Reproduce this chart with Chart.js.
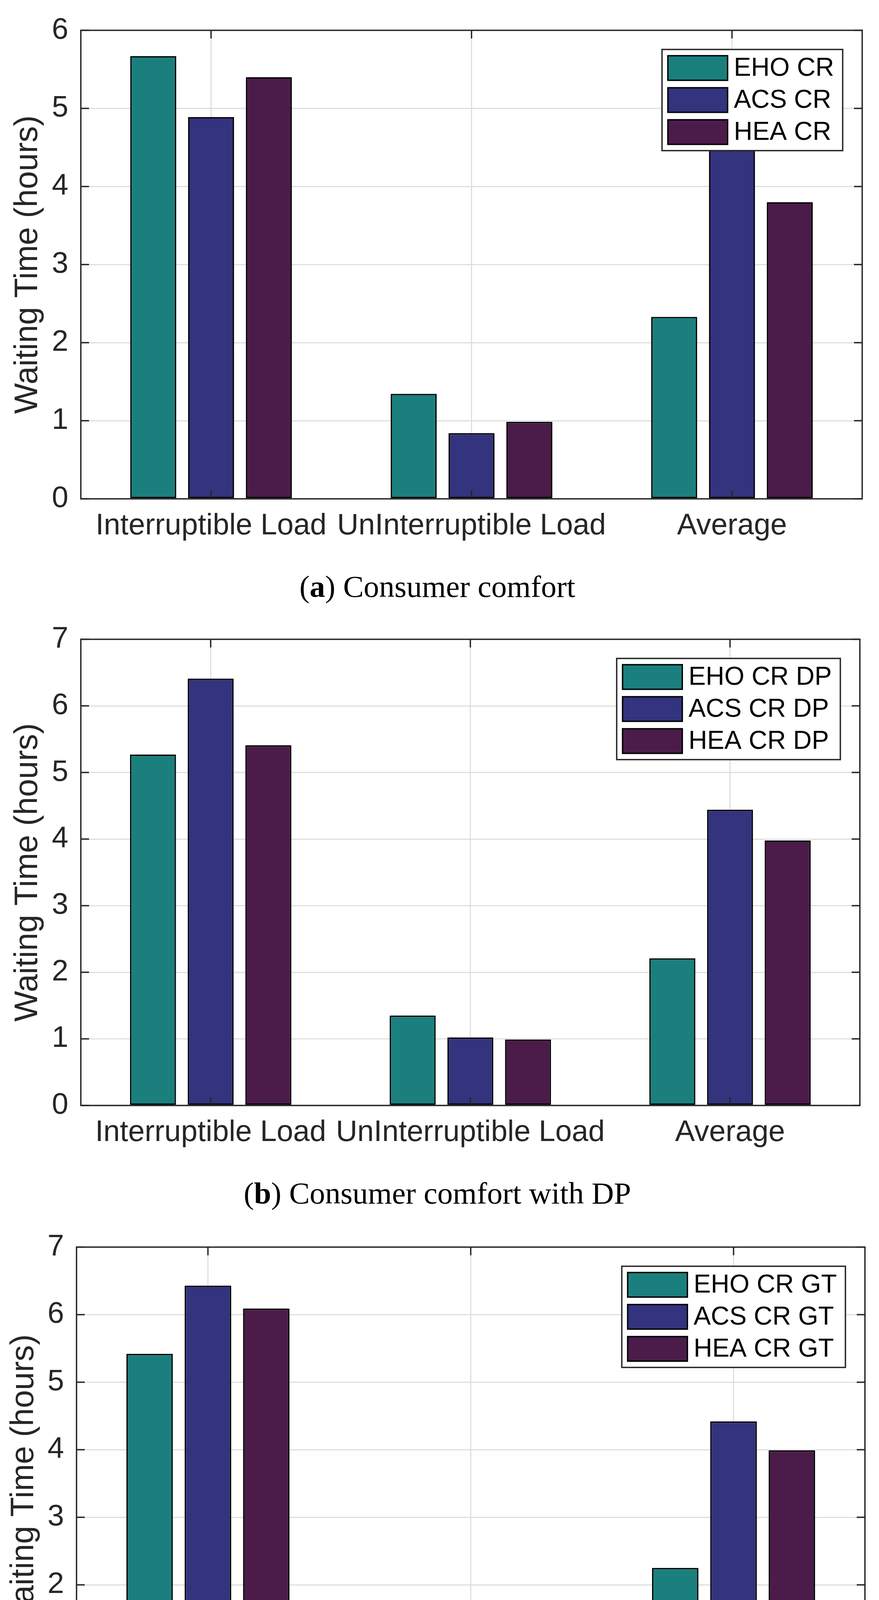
<!DOCTYPE html>
<html>
<head>
<meta charset="utf-8">
<script src="https://cdn.jsdelivr.net/npm/chart.js@4.4.1/dist/chart.umd.min.js"></script>
<style>
  html, body { margin: 0; padding: 0; background: #fff; }
  body { width: 2251px; height: 4688px; position: relative; overflow: hidden; }
  .panel { position: absolute; left: 0; width: 2251px; height: 1420px; }
  .cap {
    position: absolute; left: 0; width: 2240px; text-align: center;
    font-family: "Liberation Serif", "DejaVu Serif", serif;
    font-size: 79px; line-height: 79px; color: #000; white-space: nowrap;
  }
</style>
</head>
<body>
<div class="panel" style="top:0px"><canvas id="chartA" width="2251" height="1420"></canvas></div>
<div class="cap" style="top:1462px">(<b>a</b>) Consumer comfort</div>
<div class="panel" style="top:1559px"><canvas id="chartB" width="2251" height="1420"></canvas></div>
<div class="cap" style="top:3015px">(<b>b</b>) Consumer comfort with DP</div>
<div class="panel" style="top:3115px"><canvas id="chartC" width="2251" height="1420"></canvas></div>
<div class="cap" style="top:4588px">(<b>c</b>) Consumer comfort with GT</div>
<script>
// data
const categories = ["Interruptible Load", "UnInterruptible Load", "Average"];

const labelsA = ["EHO CR", "ACS CR", "HEA CR"];
const ehoA = [5.67, 1.345, 2.33];
const acsA = [4.89, 0.84, 4.475];
const heaA = [5.40, 0.985, 3.80];

const labelsB = ["EHO CR DP", "ACS CR DP", "HEA CR DP"];
const ehoB = [5.27, 1.35, 2.21];
const acsB = [6.41, 1.02, 4.44];
const heaB = [5.41, 0.99, 3.98];

const labelsC = ["EHO CR GT", "ACS CR GT", "HEA CR GT"];
const ehoC = [5.42, 1.345, 2.25];
const acsC = [6.43, 0.84, 4.42];
const heaC = [6.09, 0.84, 3.99];

const colors = ["#1b807d", "#33337e", "#4b1c4a"];
const axisCol = "#262626";
const gridCol = "#dfdfdf";
const sans = '"Liberation Sans", Arial, Helvetica, sans-serif';

// frame and inner tick marks, like matlab's box on
const framePlugin = {
    id: "frame",
    afterDatasetsDraw(chart) {
        const ctx = chart.ctx;
        const a = chart.chartArea;
        const x = chart.scales.x;
        const y = chart.scales.y;
        ctx.save();
        ctx.strokeStyle = axisCol;
        ctx.lineWidth = 3.5;
        ctx.beginPath();
        for (let i = 0; i < y.ticks.length; i++) {
            const py = y.getPixelForTick(i);
            ctx.moveTo(a.left, py); ctx.lineTo(a.left + 21, py);
            ctx.moveTo(a.right, py); ctx.lineTo(a.right - 21, py);
        }
        for (let i = 0; i < x.ticks.length; i++) {
            const px = x.getPixelForTick(i);
            ctx.moveTo(px, a.bottom); ctx.lineTo(px, a.bottom - 21);
            ctx.moveTo(px, a.top); ctx.lineTo(px, a.top + 21);
        }
        ctx.stroke();
        ctx.strokeRect(a.left, a.top, a.right - a.left, a.bottom - a.top);
        ctx.restore();
    }
};

// boxed legend in the upper right corner
const boxLegend = {
    id: "boxLegend",
    afterDraw(chart) {
        const ctx = chart.ctx;
        const a = chart.chartArea;
        const sets = chart.data.datasets;
        ctx.save();
        ctx.font = "66px " + sans;
        let tw = 0;
        sets.forEach(ds => { tw = Math.max(tw, ctx.measureText(ds.label).width); });
        const w = 15 + 153 + 16 + tw + 22;
        const h = 16 + 82 * (sets.length - 1) + 63 + 16;
        const bx = a.right - 50 - w;
        const by = a.top + 49;
        ctx.fillStyle = "#fff";
        ctx.fillRect(bx, by, w, h);
        ctx.strokeStyle = axisCol;
        ctx.lineWidth = 3.5;
        ctx.strokeRect(bx, by, w, h);
        sets.forEach((ds, i) => {
            const sy = by + 16 + 82 * i;
            ctx.fillStyle = ds.backgroundColor;
            ctx.fillRect(bx + 15, sy, 153, 63);
            ctx.strokeStyle = "#000";
            ctx.lineWidth = 3.5;
            ctx.strokeRect(bx + 15, sy, 153, 63);
            ctx.fillStyle = "#000";
            ctx.textAlign = "left";
            ctx.textBaseline = "middle";
            ctx.fillText(ds.label, bx + 15 + 153 + 16, sy + 33);
        });
        ctx.restore();
    }
};

function makeChart(canvas, labels, series, ymax, box) {
    const datasets = series.map((d, i) => ({
        label: labels[i],
        data: d,
        backgroundColor: colors[i],
        borderColor: "#000",
        borderWidth: 3.5,
        borderSkipped: false,
        categoryPercentage: 0.666,
        barPercentage: 0.797
    }));
    return new Chart(document.getElementById(canvas), {
        type: "bar",
        data: { labels: categories, datasets: datasets },
        options: {
            responsive: false,
            animation: false,
            devicePixelRatio: 1,
            layout: { padding: { top: box.top, right: 2251 - box.right, left: 0, bottom: 0 } },
            plugins: { legend: { display: false }, tooltip: { enabled: false } },
            scales: {
                x: {
                    grid: { color: gridCol, lineWidth: 3, offset: false, drawTicks: false },
                    border: { display: false },
                    ticks: { color: axisCol, font: { family: sans, size: 76 }, padding: 24, maxRotation: 0, autoSkip: false },
                    afterFit: s => { s.height = 1420 - box.bottom; }
                },
                y: {
                    min: 0,
                    max: ymax,
                    grid: { color: gridCol, lineWidth: 3, drawTicks: false },
                    border: { display: false },
                    ticks: { stepSize: 1, color: axisCol, font: { family: sans, size: 76 }, padding: 32 },
                    title: {
                        display: true,
                        text: "Waiting Time (hours)",
                        color: axisCol,
                        font: { family: sans, size: 83 },
                        padding: { top: box.titlePad, bottom: 0 }
                    },
                    afterFit: s => { s.width = box.left; }
                }
            }
        },
        plugins: [framePlugin, boxLegend]
    });
}

makeChart("chartA", labelsA, [ehoA, acsA, heaA], 6, { left: 207, right: 2208, top: 51, bottom: 1277, titlePad: 22 });
makeChart("chartB", labelsB, [ehoB, acsB, heaB], 7, { left: 207, right: 2202, top: 51, bottom: 1271, titlePad: 22 });
makeChart("chartC", labelsC, [ehoC, acsC, heaC], 7, { left: 196, right: 2215, top: 51, bottom: 1288, titlePad: 12 });
</script>
</body>
</html>
